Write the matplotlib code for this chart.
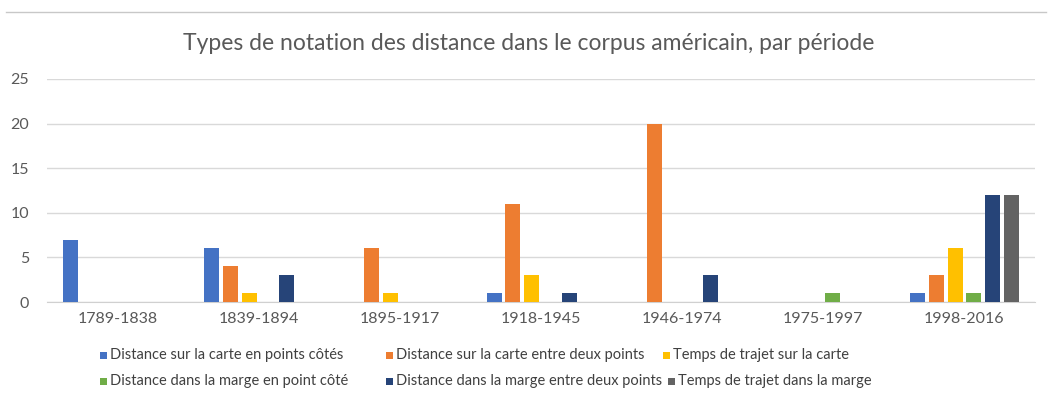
import numpy as np
import matplotlib
matplotlib.use("Agg")
import matplotlib.pyplot as plt
from matplotlib.lines import Line2D
from matplotlib.patches import Rectangle
from matplotlib import font_manager

plt.rcParams['font.family'] = ['Lato', 'DejaVu Sans']

periods = ["1789-1838", "1839-1894", "1895-1917", "1918-1945",
           "1946-1974", "1975-1997", "1998-2016"]

series_names = [
    "Distance sur la carte en points côtés",
    "Distance sur la carte entre deux points",
    "Temps de trajet sur la carte",
    "Distance dans la marge en point côté",
    "Distance dans la marge entre deux points",
    "Temps de trajet dans la marge",
]

carte_points_cotes = [7, 6, 0, 1, 0, 0, 1]
carte_deux_points = [0, 4, 6, 11, 20, 0, 3]
carte_temps = [0, 1, 1, 3, 0, 0, 6]
marge_point_cote = [0, 0, 0, 0, 0, 1, 1]
marge_deux_points = [0, 3, 0, 1, 3, 0, 12]
marge_temps = [0, 0, 0, 0, 0, 0, 12]

values = [carte_points_cotes, carte_deux_points, carte_temps,
          marge_point_cote, marge_deux_points, marge_temps]
colors = ["#4472C4", "#ED7D31", "#FFC000", "#70AD47", "#264478", "#636363"]

W, H = 1052, 400
fig = plt.figure(figsize=(W / 100, H / 100), dpi=100)
ax = fig.add_axes([47 / W, 1 - 302 / H, (1035 - 47) / W, (302 - 79) / H])

x = np.arange(len(periods))
slot = 0.1325
width = 0.106
for i, (vals, col) in enumerate(zip(values, colors)):
    offs = (i - 2.5) * slot
    ax.bar(x + offs, vals, width=width, color=col, label=series_names[i], zorder=3)

ax.set_xlim(-0.5, len(periods) - 0.5)
ax.set_ylim(0, 25)
ax.set_yticks(range(0, 26, 5))
ax.set_xticks(x)
ax.set_xticklabels(periods)
ax.yaxis.grid(True, color="#d9d9d9", linewidth=1.0, zorder=0)
ax.set_axisbelow(True)
for s in ["top", "right", "left"]:
    ax.spines[s].set_visible(False)
ax.spines["bottom"].set_color("#d0d0d0")
ax.tick_params(axis="both", length=0, labelsize=11.5, colors="#595959")
ax.tick_params(axis="x", pad=7)
ax.tick_params(axis="y", pad=13)

fig.text(0.503, 1 - 44 / H, "Types de notation des distance dans le corpus américain, par période",
         ha="center", va="center", fontsize=16.5, color="#595959")

# thin rule along the top edge
fig.add_artist(Line2D([6 / W, 1046 / W], [1 - 12 / H, 1 - 12 / H],
                      transform=fig.transFigure, color="#c8c8c8", linewidth=1))

# legend laid out in rows of three, Excel style
names = {f.name for f in font_manager.fontManager.ttflist}
leg_family = ['Liberation Sans Narrow', 'Lato'] if 'Liberation Sans Narrow' in names else ['Lato']
col_x = [100, 386, 663]
row_y = [355, 381]
box = 7
for i, (name, col) in enumerate(zip(series_names, colors)):
    r, c = divmod(i, 3)
    cx = col_x[c] + (5 if (r == 1 and c == 2) else 0)
    cy = row_y[r]
    fig.add_artist(Rectangle((cx / W, 1 - (cy + box / 2) / H), box / W, box / H,
                             transform=fig.transFigure, facecolor=col, edgecolor="none"))
    fig.text((cx + box + 3) / W, 1 - cy / H, name, ha="left", va="center",
             fontsize=10.5, color="#404040", family=leg_family)

fig.savefig("out.png", dpi=100, facecolor="white")
